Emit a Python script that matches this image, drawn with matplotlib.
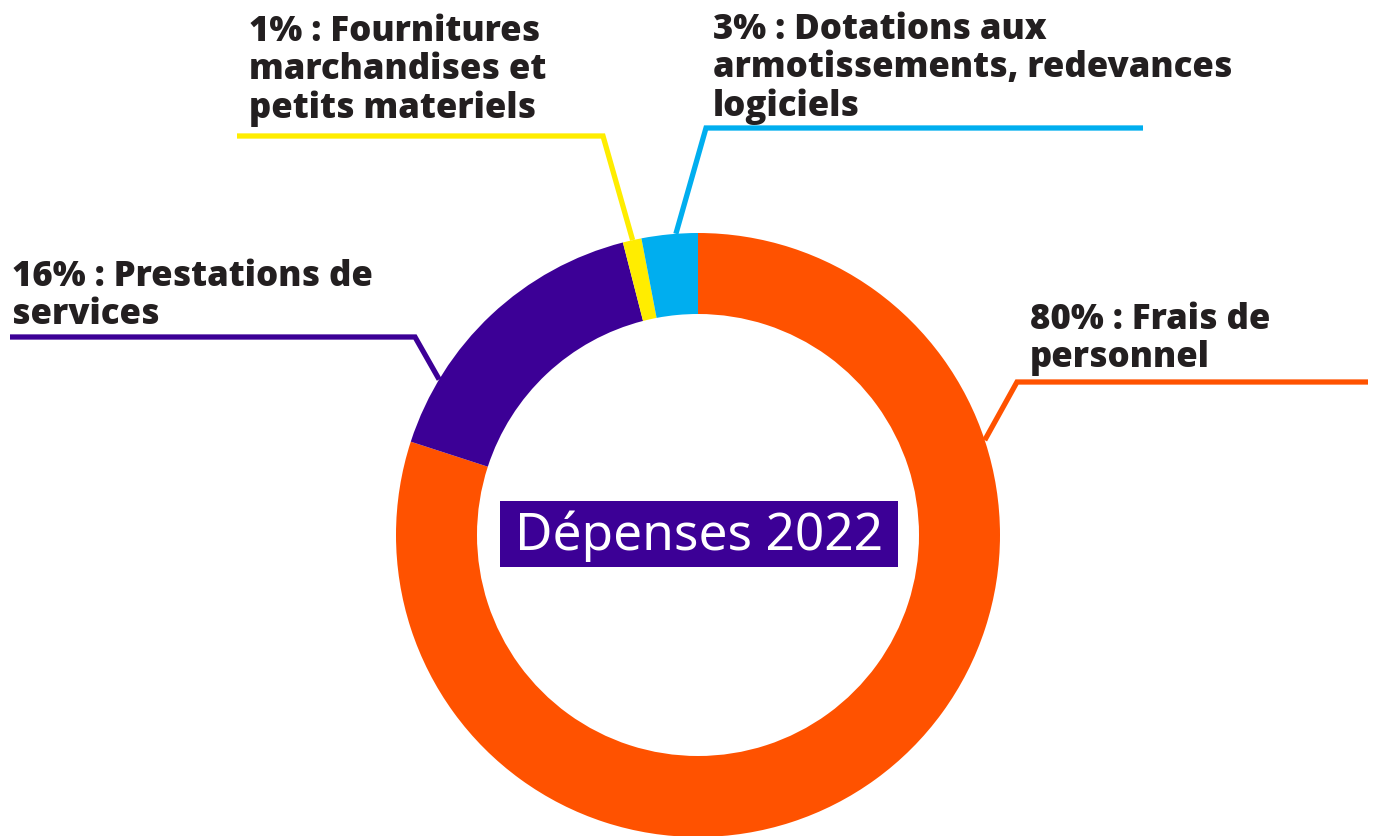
import matplotlib.pyplot as plt
import matplotlib.patches as mpatches
import numpy as np

# data
labels = [
    "80% : Frais de\npersonnel",
    "16% : Prestations de\nservices",
    "1% : Fournitures\nmarchandises et\npetits materiels",
    "3% : Dotations aux\narmotissements, redevances\nlogiciels",
]
values = [80, 16, 1, 3]
colors = ["#ff5200", "#3c0096", "#ffed00", "#00aeef"]
title = "Dépenses 2022"

W, H = 1375, 836
TEXT_DARK = "#231f20"

fig = plt.figure(figsize=(W / 100, H / 100), dpi=100, facecolor="white")
ax = fig.add_axes([0, 0, 1, 1])


def py(y):
    # pixel row (from top) -> data y
    return H - y


cx, cy = 698, py(535)
R, r = 302, 221

ax.pie(
    values,
    colors=colors,
    startangle=90,
    counterclock=False,
    radius=R,
    center=(cx, cy),
    wedgeprops=dict(width=R - r, linewidth=0),
)
ax.set_xlim(0, W)
ax.set_ylim(0, H)
ax.set_aspect("equal")
ax.axis("off")

# leader lines: angle on ring, elbow point, end of horizontal
leaders = [
    (18.3, (1017, 382), 1368),
    (149.0, (415, 337), 10),
    (102.5, (603, 136), 237),
    (94.2, (706, 128), 1143),
]
# label top-left positions
label_pos = [(1030, 302), (12, 259), (249, 14), (713, 12)]

for (ang, elbow, xend), col in zip(leaders, colors):
    a = np.deg2rad(ang)
    x0, y0 = cx + R * np.cos(a), cy + R * np.sin(a)
    ax.plot(
        [x0, elbow[0], xend],
        [y0, py(elbow[1]), py(elbow[1])],
        color=col,
        lw=3.8,
        solid_joinstyle="miter",
        solid_capstyle="butt",
    )

for lab, (x, y) in zip(labels, label_pos):
    ax.text(
        x, py(y), lab,
        ha="left", va="top",
        fontsize=25, fontweight="heavy", family="Open Sans",
        color=TEXT_DARK, linespacing=1.08,
    )

# centre title box
ax.add_patch(mpatches.Rectangle((500, py(567)), 398, 66, color="#3c0096", lw=0))
ax.text(699, py(536), title, ha="center", va="center",
        fontsize=37, family="Noto Sans", color="white")

fig.savefig("out.png", dpi=100, facecolor="white")
